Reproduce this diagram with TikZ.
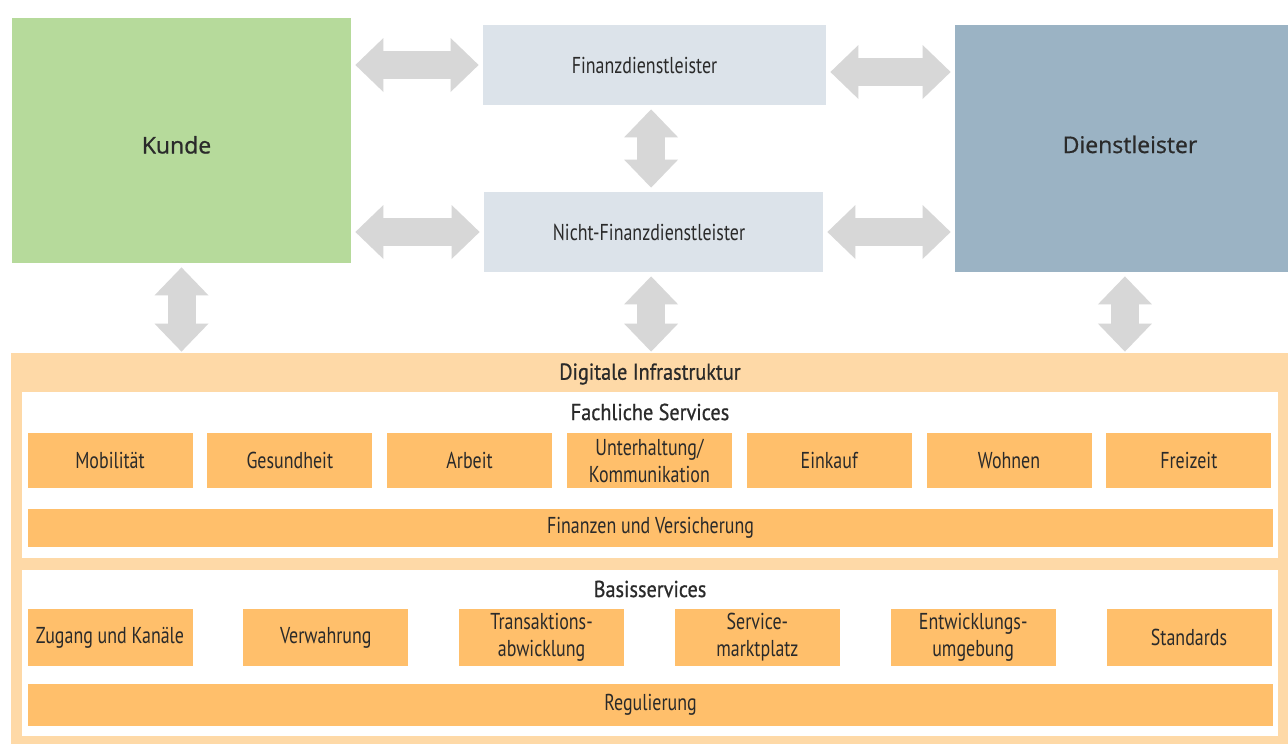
\documentclass[tikz,border=0pt]{standalone}
\usepackage{fontspec}
\setmainfont{PT Sans}[FakeStretch=0.78]
\newfontfamily\actorfont{Open Sans}[FakeBold=0.8]
\newfontfamily\headfont{PT Sans}[FakeStretch=0.88,FakeBold=0.7]
\usetikzlibrary{arrows.meta}
\definecolor{kundegreen}{HTML}{B6DA9B}
\definecolor{finblue}{HTML}{DCE3EA}
\definecolor{dienstblue}{HTML}{9BB3C4}
\definecolor{infralight}{HTML}{FED9A7}
\definecolor{serviceorange}{HTML}{FFBF6B}
\definecolor{arrowgray}{HTML}{D7D7D7}
\definecolor{textgray}{HTML}{2A2A2A}
\tikzset{
  boxsize/.style 2 args={minimum width=#1*0.5pt,minimum height=#2*0.5pt},
  actor/.style={inner sep=0pt,text=textgray,font=\actorfont\fontsize{11.5}{13}\selectfont},
  provider/.style={fill=finblue,inner sep=0pt,text=textgray,font=\fontsize{11.5}{13.5}\selectfont},
  service/.style={fill=serviceorange,inner sep=0pt,align=center,text=textgray,
    font=\fontsize{11.5}{13.5}\selectfont},
  heading/.style={inner sep=0pt,text=textgray,font=\headfont\fontsize{11.5}{13.5}\selectfont},
  twoway/.style={draw=arrowgray,line width=14pt,shorten <=2pt,shorten >=2pt,
    {Triangle[length=14pt 0 1,width=27pt 0 1,line width=0pt]}-{Triangle[length=14pt 0 1,width=27pt 0 1,line width=0pt]}},
}
\begin{document}
\begin{tikzpicture}[x=0.5pt,y=-0.5pt]
\useasboundingbox[fill=white] (0,0) rectangle (1288,744);
% akteure
\node[actor,fill=kundegreen,boxsize={339}{245},text height=13pt,text depth=0pt] (kunde) at (181.5,140.5) {Kunde\kern5pt};
\node[provider,boxsize={343}{80}] (fin) at (654.5,65) {Finanzdienstleister\kern10pt};
\node[provider,boxsize={339}{80}] (nicht) at (653.5,232) {Nicht-Finanzdienstleister\kern4.5pt};
\node[actor,fill=dienstblue,boxsize={333}{247},text depth=4.2pt] (dienst) at (1121.5,148.5) {\kern8.5pt Dienstleister};
% infrastruktur
\node[fill=infralight,boxsize={1277}{391},inner sep=0pt] (infra) at (649.5,548.5) {};
\node[heading] (infratitle) at (650,374) {Digitale Infrastruktur};
\node[fill=white,boxsize={1256}{166},inner sep=0pt] (fach) at (650,475) {};
\node[heading] (fachtitle) at (650,412) {Fachliche Services};
\foreach \name [count=\i from 0] in {Mobilität,Gesundheit,Arbeit,{Unterhaltung/\\Kommunikation},Einkauf,Wohnen,Freizeit}
  \node[service,boxsize={165}{55}] (fach\i) at (110+179.8*\i,460.5) {\name};
\node[service,boxsize={1245}{38}] (finanzen) at (650.5,528) {Finanzen und Versicherung};
\node[fill=white,boxsize={1256}{166},inner sep=0pt] (basis) at (650,653) {};
\node[heading] (basistitle) at (650,589) {Basisservices};
\foreach \name [count=\i from 0] in {Zugang und Kanäle,Verwahrung,{Transaktions-\\abwicklung},{Service-\\marktplatz},{Entwicklungs-\\umgebung},Standards}
  \node[service,boxsize={165}{57}] (basis\i) at (110+215.8*\i,637.5) {\name};
\node[service,boxsize={1245}{42}] (regulierung) at (650.5,705) {Regulierung};
% verbindungen
\draw[twoway] (kunde.east |- fin.west) -- (fin.west);
\draw[twoway] (kunde.east |- nicht.west) -- (nicht.west);
\draw[twoway] ([yshift=-3.5pt]fin.east) -- ([yshift=-3.5pt]fin.east -| dienst.west);
\draw[twoway] (nicht.east) -- (nicht.east -| dienst.west);
\draw[twoway] ([xshift=-1.2pt]nicht.north |- fin.south) -- ([xshift=-1.2pt]nicht.north);
\draw[twoway,shorten >=0.5pt] (kunde.south) -- (kunde.south |- infra.north);
\draw[twoway,shorten >=0.5pt] ([xshift=-1.2pt]nicht.south) -- ([xshift=-1.2pt]nicht.south |- infra.north);
\draw[twoway,shorten >=0.5pt] ([xshift=1.7pt]dienst.south) -- ([xshift=1.7pt]dienst.south |- infra.north);
\end{tikzpicture}
\end{document}
